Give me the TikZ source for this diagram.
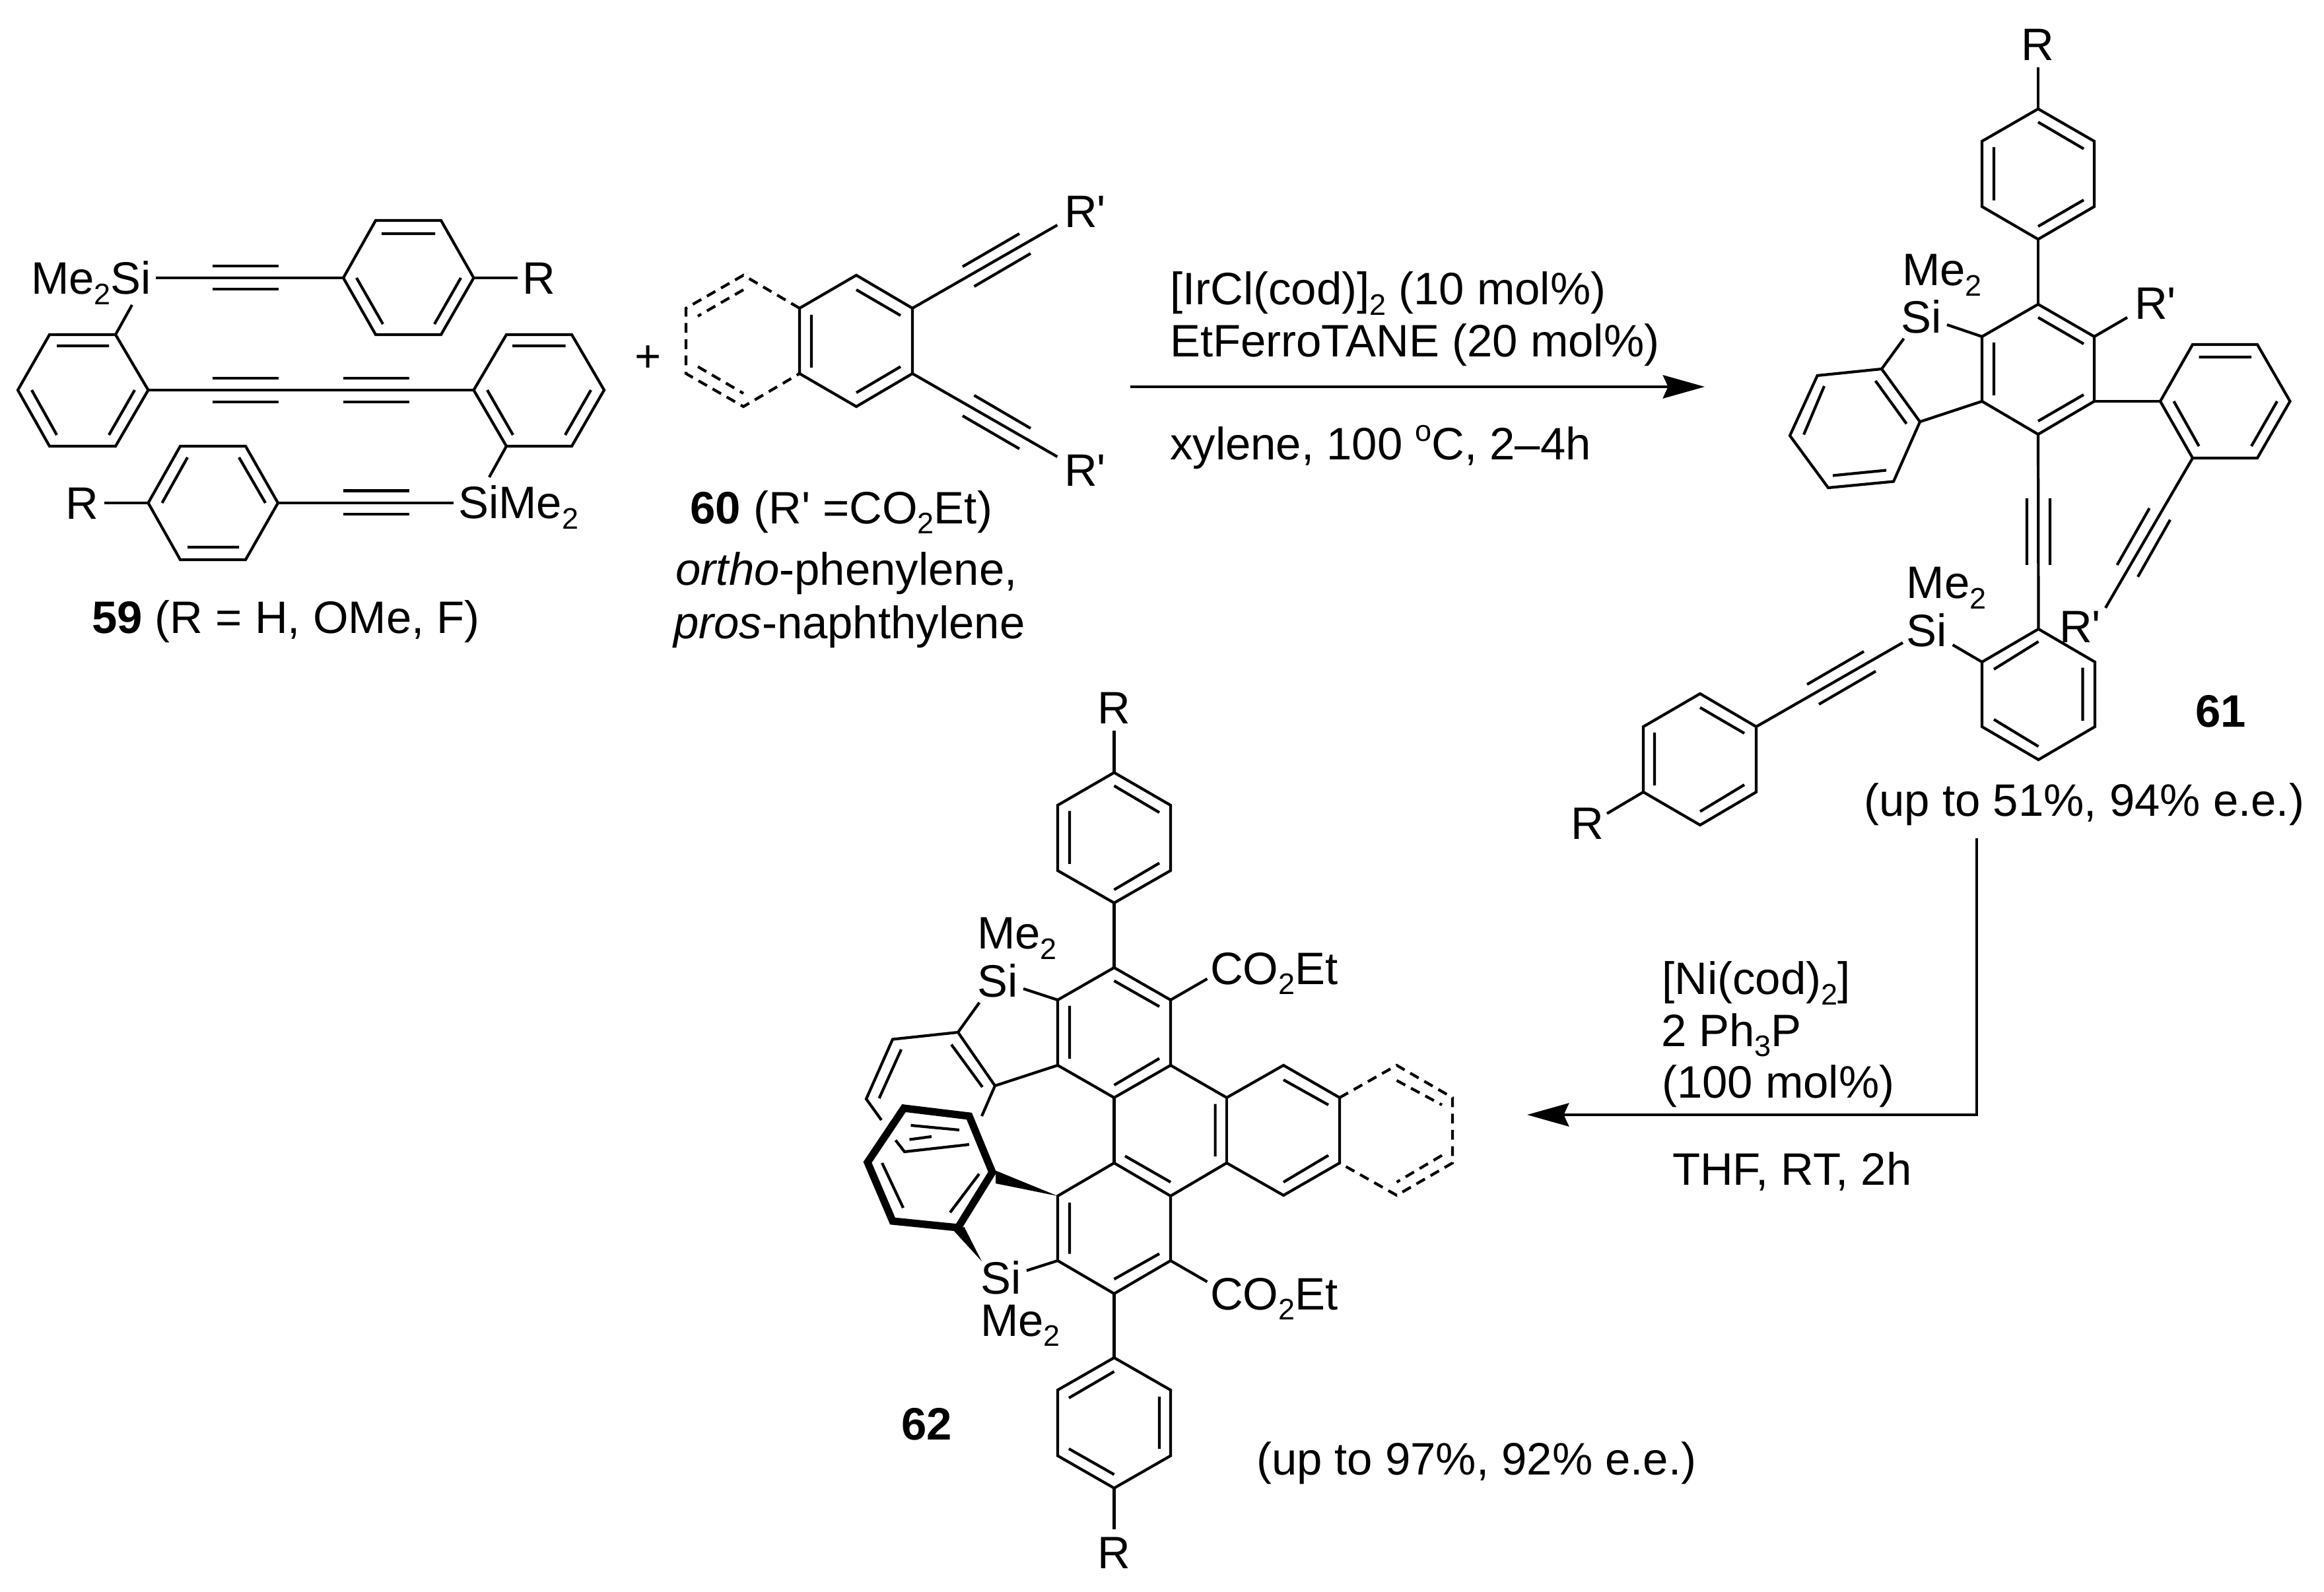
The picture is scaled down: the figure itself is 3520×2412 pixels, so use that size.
\documentclass[tikz,border=0pt]{standalone}
\usepackage{fontspec}
\setmainfont{Liberation Sans}
\usetikzlibrary{arrows.meta}
\newcommand\sbs[1]{\raisebox{-4.4pt}{\fontsize{12.8pt}{14pt}\selectfont #1}}
\newcommand\prm{\textquotesingle}
\tikzset{
  bond/.style={line width=1.2pt,line join=miter,line cap=butt},
  dashbond/.style={line width=1.2pt,dash pattern=on 4.2pt off 2.8pt},
  boldring/.style={line width=3.2pt,line join=miter},
  wedge/.style={fill=black,draw=none},
  lbl/.style={anchor=base west,inner sep=0pt,outer sep=0pt,xshift=-1.1pt,font=\fontsize{19.6pt}{22pt}\selectfont},
  rxn/.style={line width=1.2pt,-{Stealth[length=18pt,width=10pt,inset=2.2pt]}}
}
\begin{document}
\begin{tikzpicture}[x=0.1mm,y=-0.1mm]
\path[use as bounding box,fill=white] (0,0) rectangle (3520,2412);

% ===== compound 59 =====
\draw[bond] (520,421)--(569,334)--(668,334)--(717.5,421)--(668,507)--(569,507)--cycle;
\draw[bond] (578,354)--(659,354) (540,421)--(580,491) (698,421)--(658,491);
\draw[bond] (717.5,421)--(784,421);
\draw[bond] (236,421)--(520,421) (322,403)--(422,403) (322,438)--(422,438);
\draw[bond] (175,507)--(75,507)--(27,591)--(75,676)--(175,676)--(224.5,591)--cycle;
\draw[bond] (86,524)--(165,524) (48,591)--(86,659) (204,591)--(165,659);
\draw[bond] (175,507)--(200,462);
\draw[bond] (224.5,591)--(717.5,591) (322,573)--(422,573) (322,609)--(422,609) (520,573)--(620,573) (520,609)--(620,609);
\draw[bond] (717.5,591)--(767,507)--(866,507)--(915,591)--(866,676)--(767,676)--cycle;
\draw[bond] (776,524)--(856.5,524) (895,591)--(856,659) (738,591)--(777,659);
\draw[bond] (767,676)--(741,723);
\draw[bond] (224.5,762)--(273,676)--(372,676)--(421,762)--(372,848)--(273,848)--cycle;
\draw[bond] (245.5,762)--(284,693) (402,762)--(362,693) (284,829)--(362,829);
\draw[bond] (158,762)--(224.5,762);
\draw[bond] (421,762)--(687,762) (520,743.5)--(620,743.5) (520,779)--(620,779);
\node[lbl] (s59a) at (51,446) {Me\sbs{2}Si};
\node[lbl] (r59a) at (795,446) {R};
\node[lbl] (r59b) at (103,787) {R};
\node[lbl] (s59b) at (698,786) {SiMe\sbs{2}};
\node[lbl] (n59) at (143,960) {\textbf{59} (R = H, OMe, F)};
\node[lbl,anchor=center,xshift=1.1pt] (plus) at (982,544) {+};

% ===== compound 60 =====
\draw[bond] (1211,467)--(1297,417)--(1382,467)--(1382,566)--(1297,616)--(1211,566)--cycle;
\draw[bond] (1297,439)--(1364,478) (1229,477)--(1229,557) (1297,595)--(1364,555.5);
\draw[dashbond] (1211,467)--(1126,417)--(1039,467)--(1039,566)--(1126,616)--(1211,566);
\draw[dashbond] (1126,439)--(1057,479) (1057,555.5)--(1126,596);
\draw[bond] (1382,467)--(1601.5,341) (1458,404)--(1544,354) (1475.5,434)--(1561,384);
\draw[bond] (1382,566)--(1601.5,692) (1458,630)--(1544,680) (1475.5,599)--(1561,649);
\node[lbl] (r60a) at (1616,345) {R\prm};
\node[lbl] (r60b) at (1616,737) {R\prm};
\node[lbl] (n60) at (1049.5,793.5) {\textbf{60} (R\prm{} =CO\sbs{2}Et)};
\node[lbl] (o60) at (1027.5,887) {\textit{ortho}-phenylene,};
\node[lbl] (p60) at (1024,968) {\textit{pros}-naphthylene};

% ===== first arrow =====
\coordinate (a1s) at (1712,586);
\coordinate (a1e) at (2582,586);
\draw[rxn] (a1s)--(a1e);
\node[lbl] (c1a) at (1776,462) {[IrCl(cod)]\sbs{2} (10 mol\%)};
\node[lbl] (c1b) at (1776,541) {EtFerroTANE (20 mol\%)};
\node[lbl] (c1c) at (1776,697) {xylene, 100 \raisebox{8pt}{\fontsize{12.8pt}{14pt}\selectfont o}C, 2–4h};

% ===== compound 61 =====
\draw[bond] (3087,165)--(3172,214)--(3172,313)--(3087,362.5)--(3002,313)--(3002,214)--cycle;
\draw[bond] (3087,185)--(3156,225.5) (3020,223)--(3020,303.6) (3087,343)--(3156,303);
\draw[bond] (3087,102)--(3087,165) (3087,362.5)--(3087,461);
\draw[bond] (3087,461)--(3172,510)--(3172,608)--(3087,658)--(3002,608)--(3002,510)--cycle;
\draw[bond] (3087,481)--(3156,521) (3020,519)--(3020,599) (3087,638)--(3156,598);
\draw[bond] (3172,510)--(3222,481);
\draw[bond] (2949,492)--(3002,510) (2883.5,513)--(2850,559);
\draw[bond] (2850,559)--(2908,639)--(2868,729.5)--(2769,739)--(2711,660)--(2752.6,569)--cycle;
\draw[bond] (2840.6,577)--(2887.6,642) (2763,585)--(2732,658.5) (2776,720.5)--(2857,712.5);
\draw[bond] (2908,639)--(3002,608);
\draw[bond] (3172,608)--(3272,608);
\draw[bond] (3272,608)--(3321,522)--(3419,522)--(3468.5,608)--(3419,694)--(3321,694)--cycle;
\draw[bond] (3330.6,541)--(3410,541) (3292.5,608)--(3330.6,676) (3449,608)--(3410,676);
\draw[bond] (3321,694)--(3189,921) (3255.6,770)--(3206.6,856) (3287,787.5)--(3238,874);
\draw[bond] (3087,658)--(3087.5,953) (3070,755)--(3070,856) (3105,755)--(3105,856);
\draw[bond] (3087.5,953)--(3173,1003)--(3173,1101)--(3087.5,1151)--(3002,1101)--(3002,1003)--cycle;
\draw[bond] (3087.5,972)--(3020,1014) (3154.5,1011.6)--(3154.5,1092) (3020,1090)--(3087.5,1131);
\draw[bond] (2957.6,977)--(3002,1003);
\draw[bond] (2882,973.7)--(2660,1101) (2823,987)--(2737,1037) (2841,1017)--(2755,1067);
\draw[bond] (2660,1101)--(2575,1051)--(2489,1101)--(2489,1200)--(2575,1250)--(2660,1200)--cycle;
\draw[bond] (2575,1072)--(2642,1111) (2506,1110)--(2506,1190) (2642,1189)--(2575,1229.5);
\draw[bond] (2489,1200)--(2434,1232.6);
\node[lbl] (r61a) at (3065,91.5) {R};
\node[lbl] (m61a) at (2885,433) {Me\sbs{2}};
\node[lbl] (s61a) at (2883.5,504.5) {Si};
\node[lbl] (r61b) at (3237,484) {R\prm};
\node[lbl] (r61c) at (3123,974) {R\prm};
\node[lbl] (m61b) at (2891.5,907) {Me\sbs{2}};
\node[lbl] (s61b) at (2891.5,979.5) {Si};
\node[lbl] (r61d) at (2383,1272) {R};
\node[lbl] (n61) at (3329,1102) {\textbf{61}};
\node[lbl] (y61) at (2827.6,1237) {(up to 51\%, 94\% e.e.)};

% ===== second arrow =====
\coordinate (a2s) at (2994,1270);
\coordinate (a2c) at (2994,1689);
\coordinate (a2e) at (2313,1689);
\draw[rxn] (a2s)--(a2c)--(a2e);
\node[lbl] (c2a) at (2521,1507) {[Ni(cod)\sbs{2}]};
\node[lbl] (c2b) at (2520,1585) {2 Ph\sbs{3}P};
\node[lbl] (c2c) at (2521,1664) {(100 mol\%)};
\node[lbl] (c2d) at (2537,1795) {THF, RT, 2h};

% ===== compound 62 =====
\draw[bond] (1687.5,1107)--(1687.5,1170.5);
\draw[bond] (1687.5,1170.5)--(1773,1220)--(1773,1319)--(1687.5,1368)--(1602,1319)--(1602,1220)--cycle;
\draw[bond] (1687.5,1190.6)--(1756,1231) (1620,1228.6)--(1620,1309) (1687.5,1348)--(1756,1307.6);
\draw[bond] (1687.5,1368)--(1687.5,1466);
\draw[bond] (1687.5,1466)--(1773,1515)--(1773,1614)--(1687.5,1663)--(1602,1614)--(1602,1515)--cycle;
\draw[bond] (1687.5,1486)--(1756,1525) (1620,1524)--(1620,1604) (1687.5,1644)--(1756,1603.6);
\draw[bond] (1773,1515)--(1828.5,1483);
\draw[bond] (1550,1498)--(1602,1515) (1483.4,1519)--(1451,1564);
% rear benzo ring with its gaps
\draw[bond] (1335,1697)--(1312,1665)--(1352,1574.6)--(1451,1564)--(1507,1645)--(1487,1691);
\draw[bond] (1356.5,1727.5)--(1370,1745)--(1468,1734);
\draw[bond] (1507,1645)--(1602,1614);
\draw[bond] (1441,1582.6)--(1488,1647) (1365,1590)--(1331.6,1664) (1377.5,1726.5)--(1411,1722);
% central rings
\draw[bond] (1773,1614)--(1858,1663)--(1944,1614)--(2029,1663)--(2029,1762)--(1944,1811)--(1858,1762)--(1773,1812)--(1687.5,1762)--(1602,1812)--(1602,1910)--(1687.5,1960)--(1773,1910)--(1773,1812);
\draw[bond] (1687.5,1663)--(1687.5,1762) (1858,1663)--(1858,1762);
\draw[bond] (1944,1636)--(2012,1674) (2012,1750.5)--(1944,1791) (1840.6,1672.5)--(1840.6,1752) (1773,1791)--(1704,1751.5) (1620,1822)--(1620,1899.5) (1687.5,1938)--(1756,1899.5);
\draw[dashbond] (2029,1663)--(2115.5,1614)--(2200,1663)--(2200,1762)--(2115.5,1811)--(2029,1762);
\draw[dashbond] (2115.5,1637)--(2184,1674) (2184,1750.5)--(2115.5,1791);
\draw[bond] (1773,1910)--(1828.5,1942) (1602,1910)--(1555,1925);
\draw[bond] (1687.5,1960)--(1687.5,2057);
\draw[bond] (1687.5,2057)--(1773,2106)--(1773,2205.6)--(1687.5,2254.6)--(1602,2205.6)--(1602,2106)--cycle;
\draw[bond] (1687.5,2078)--(1619,2118) (1756,2116)--(1756,2195) (1687.5,2234)--(1619,2195);
\draw[bond] (1687.5,2254.6)--(1687.5,2317);
% front benzo ring, bold
\draw[boldring] (1369,1679)--(1468,1691)--(1503,1776)--(1451,1860)--(1352,1850)--(1314,1761)--cycle;
\draw[bond] (1379.5,1705)--(1453,1712) (1336,1762)--(1368,1830) (1483,1778.6)--(1439,1837);
\fill[wedge] (1602,1812)--(1508,1773.5)--(1508,1793)--cycle;
\fill[wedge] (1487,1911)--(1443,1863)--(1460.5,1859)--cycle;
\node[lbl] (r62a) at (1666,1097) {R};
\node[lbl] (m62a) at (1484,1438) {Me\sbs{2}};
\node[lbl] (s62a) at (1484,1510) {Si};
\node[lbl] (e62a) at (1837,1491) {CO\sbs{2}Et};
\node[lbl] (e62b) at (1837,1984) {CO\sbs{2}Et};
\node[lbl] (s62b) at (1489,1960) {Si};
\node[lbl] (m62b) at (1489,2024) {Me\sbs{2}};
\node[lbl] (r62b) at (1666,2376.5) {R};
\node[lbl] (n62) at (1369,2181.6) {\textbf{62}};
\node[lbl] (y62) at (1907,2234) {(up to 97\%, 92\% e.e.)};
\end{tikzpicture}
\end{document}
